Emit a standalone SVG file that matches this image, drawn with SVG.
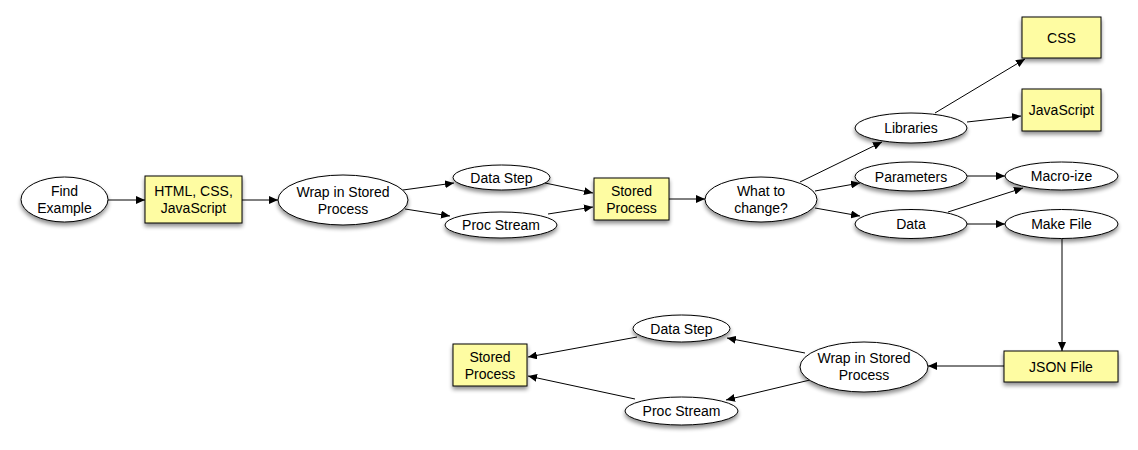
<svg xmlns="http://www.w3.org/2000/svg" width="1138" height="450" viewBox="0 0 1138 450">
<style>
.n ellipse{fill:#fff;stroke:#000;stroke-width:1;filter:url(#sh)}
.n rect{fill:#fefca2;stroke:#000;stroke-width:1;filter:url(#sh)}
text{font-family:"Liberation Sans",Arial,sans-serif;font-size:14px;fill:#000;text-anchor:middle}
#edges line,#edges path{stroke:#000;stroke-width:1;fill:none;marker-end:url(#ah)}
</style>
<defs>
<filter id="sh" x="-20%" y="-30%" width="140%" height="170%">
<feGaussianBlur in="SourceAlpha" stdDeviation="2"/>
<feOffset dx="0" dy="3" result="b"/>
<feComponentTransfer><feFuncA type="linear" slope="0.45"/></feComponentTransfer>
<feMerge><feMergeNode/><feMergeNode in="SourceGraphic"/></feMerge>
</filter>
<marker id="ah" markerUnits="userSpaceOnUse" markerWidth="10" markerHeight="8" refX="9" refY="4" orient="auto">
<path d="M0,0 L9,4 L0,8 Z" fill="#000"/>
</marker>
</defs>
<rect width="1138" height="450" fill="#fff"/>
<g id="edges">
<line x1="108" y1="200" x2="145" y2="200"/>
<line x1="242" y1="200" x2="278" y2="200"/>
<line x1="403" y1="190" x2="454" y2="183"/>
<line x1="405" y1="209" x2="450" y2="216"/>
<line x1="545" y1="183" x2="593" y2="193"/>
<line x1="548" y1="214" x2="593" y2="207"/>
<line x1="669" y1="199" x2="705" y2="199"/>
<line x1="800" y1="182" x2="882" y2="142"/>
<line x1="815" y1="191" x2="860" y2="183"/>
<line x1="815" y1="208" x2="860" y2="216"/>
<line x1="935" y1="113" x2="1025" y2="59"/>
<line x1="967" y1="122" x2="1021" y2="116"/>
<line x1="967" y1="176" x2="1005" y2="176"/>
<line x1="948" y1="212" x2="1023" y2="188"/>
<line x1="967" y1="224" x2="1005" y2="224"/>
<line x1="1062" y1="238" x2="1062" y2="351"/>
<line x1="1004" y1="366" x2="928" y2="366"/>
<line x1="805" y1="353" x2="727" y2="338"/>
<line x1="810" y1="380" x2="726" y2="400"/>
<line x1="637" y1="337" x2="528" y2="357"/>
<line x1="635" y1="399" x2="528" y2="376"/>
</g>
<g id="find" class="n"><ellipse cx="64.5" cy="199.5" rx="43.5" ry="22.5"/><text x="64.5" y="196">Find</text><text x="64.5" y="213">Example</text></g>
<g id="html" class="n"><rect x="145" y="176" width="97" height="47"/><text x="193.5" y="196">HTML, CSS,</text><text x="193.5" y="213">JavaScript</text></g>
<g id="wrap1" class="n"><ellipse cx="343" cy="200" rx="65" ry="25"/><text x="343" y="197">Wrap in Stored</text><text x="343" y="214">Process</text></g>
<g id="datastep1" class="n"><ellipse cx="501.5" cy="177.5" rx="48.5" ry="12.5"/><text x="501.5" y="182.5">Data Step</text></g>
<g id="procstream1" class="n"><ellipse cx="501" cy="225" rx="56" ry="13"/><text x="501" y="230">Proc Stream</text></g>
<g id="stored1" class="n"><rect x="594" y="178" width="75" height="42"/><text x="631.5" y="196">Stored</text><text x="631.5" y="213">Process</text></g>
<g id="what" class="n"><ellipse cx="761" cy="199.5" rx="56" ry="22.5"/><text x="761" y="196">What to</text><text x="761" y="213">change?</text></g>
<g id="libraries" class="n"><ellipse cx="911" cy="128" rx="56" ry="15"/><text x="911" y="133">Libraries</text></g>
<g id="parameters" class="n"><ellipse cx="911" cy="176.5" rx="56" ry="14.5"/><text x="911" y="181.5">Parameters</text></g>
<g id="data" class="n"><ellipse cx="911" cy="224" rx="56" ry="14.5"/><text x="911" y="229">Data</text></g>
<g id="css" class="n"><rect x="1022" y="17" width="79" height="41"/><text x="1061.5" y="42.5">CSS</text></g>
<g id="javascript" class="n"><rect x="1022" y="89" width="79" height="42"/><text x="1061.5" y="115">JavaScript</text></g>
<g id="macroize" class="n"><ellipse cx="1061.5" cy="176" rx="56.5" ry="14"/><text x="1061.5" y="181">Macro-ize</text></g>
<g id="makefile" class="n"><ellipse cx="1061.5" cy="224" rx="56.5" ry="14.5"/><text x="1061.5" y="229">Make File</text></g>
<g id="json" class="n"><rect x="1004" y="351" width="114" height="31"/><text x="1061" y="371.5">JSON File</text></g>
<g id="wrap2" class="n"><ellipse cx="864" cy="367" rx="64" ry="25"/><text x="864" y="363">Wrap in Stored</text><text x="864" y="380">Process</text></g>
<g id="datastep2" class="n"><ellipse cx="681.5" cy="328.5" rx="48.5" ry="13.5"/><text x="681.5" y="333.5">Data Step</text></g>
<g id="procstream2" class="n"><ellipse cx="681.5" cy="411" rx="56.5" ry="14"/><text x="681.5" y="416">Proc Stream</text></g>
<g id="stored2" class="n"><rect x="453" y="344" width="74" height="42"/><text x="490" y="362">Stored</text><text x="490" y="379">Process</text></g>
</svg>
